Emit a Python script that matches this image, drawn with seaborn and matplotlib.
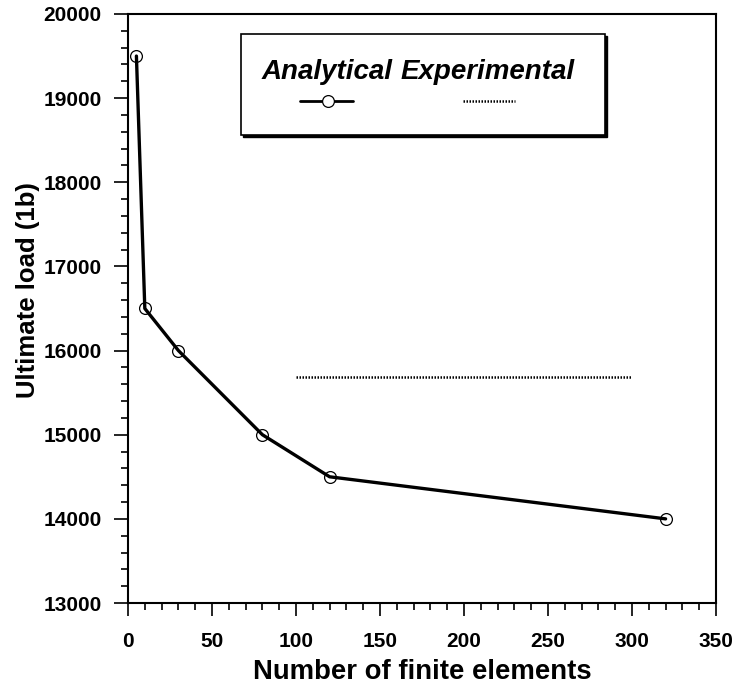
import matplotlib
matplotlib.use("Agg")
import matplotlib.pyplot as plt
import seaborn as sns
import pandas as pd
from matplotlib.ticker import MultipleLocator
from matplotlib.patches import Rectangle
from matplotlib.lines import Line2D

# Data
elements = [5, 10, 30, 80, 120, 320]
analytical_load = [19500, 16500, 16000, 15000, 14500, 14000]
exp_elements = [100, 300]
exp_load = [15680, 15680]

sns.set_theme(style="ticks")
plt.rcParams['font.family'] = ['Liberation Sans', 'DejaVu Sans']
plt.rcParams['font.weight'] = 'bold'
plt.rcParams['text.color'] = 'black'
plt.rcParams['axes.labelcolor'] = 'black'
plt.rcParams['xtick.color'] = 'black'
plt.rcParams['ytick.color'] = 'black'

fig = plt.figure(figsize=(7.37, 6.89), dpi=100)
ax = fig.add_axes([0.1737, 0.1248, 0.9715 - 0.1737, 0.9797 - 0.1248])

df_a = pd.DataFrame({"x": elements, "y": analytical_load})
df_e = pd.DataFrame({"x": exp_elements, "y": exp_load})

sns.lineplot(data=df_a, x="x", y="y", ax=ax, color="black", linewidth=2.4,
             marker="o", markersize=8.5, markerfacecolor="none",
             markeredgecolor="black", markeredgewidth=0.9)
sns.lineplot(data=df_e, x="x", y="y", ax=ax, color="black", linewidth=1.8,
             linestyle=(0, (0.6, 0.6)))

ax.set_xlim(0, 350)
ax.set_ylim(13000, 20000)
ax.xaxis.set_major_locator(MultipleLocator(50))
ax.xaxis.set_minor_locator(MultipleLocator(10))
ax.yaxis.set_major_locator(MultipleLocator(1000))
ax.yaxis.set_minor_locator(MultipleLocator(200))

for s in ax.spines.values():
    s.set_linewidth(1.5)
    s.set_color("black")
    s.set_visible(True)

ax.tick_params(axis="x", which="major", direction="out", length=9, width=1.2,
               pad=12, labelsize=15, labelcolor="black")
ax.tick_params(axis="x", which="minor", direction="out", length=5, width=1.2)
ax.tick_params(axis="y", which="major", direction="out", length=10, width=1.2,
               pad=9, labelsize=15, labelcolor="black")
ax.tick_params(axis="y", which="minor", direction="out", length=5, width=1.2)
for lab in ax.get_xticklabels() + ax.get_yticklabels():
    lab.set_fontweight("bold")

ax.set_xlabel("Number of finite elements", fontsize=19.8, fontweight="bold",
              color="black")
ax.xaxis.set_label_coords(0.5, -0.095)
ax.set_ylabel("Ultimate load (1b)", fontsize=18.5, fontweight="bold",
              color="black", va="center")
ax.yaxis.set_label_coords(-0.17, 0.531)

# Custom legend box (labels above handles), with slight shadow on right/bottom
ax.add_patch(Rectangle((0.195, 0.792), 0.619, 0.171, transform=ax.transAxes,
                       facecolor="black", edgecolor="black", linewidth=1.0,
                       zorder=4))
ax.add_patch(Rectangle((0.192, 0.795), 0.619, 0.171, transform=ax.transAxes,
                       facecolor="white", edgecolor="black", linewidth=1.2,
                       zorder=5))
ax.text(0.338, 0.902, "Analytical", transform=ax.transAxes, ha="center",
        va="center", fontsize=20, fontweight="bold", style="italic", zorder=6)
ax.text(0.611, 0.902, "Experimental", transform=ax.transAxes, ha="center",
        va="center", fontsize=20, fontweight="bold", style="italic", zorder=6)
ax.add_line(Line2D([0.293, 0.383], [0.852, 0.852], transform=ax.transAxes,
                   color="black", linewidth=2.0, zorder=6))
ax.add_line(Line2D([0.340], [0.852], transform=ax.transAxes, color="black",
                   marker="o", markersize=8.5, markerfacecolor="white",
                   markeredgewidth=0.9, linestyle="none", zorder=7))
ax.add_line(Line2D([0.570, 0.658], [0.852, 0.852], transform=ax.transAxes,
                   color="black", linewidth=1.8, linestyle=(0, (0.6, 0.6)),
                   zorder=6))

fig.savefig("out.png", dpi=100, facecolor="white")
